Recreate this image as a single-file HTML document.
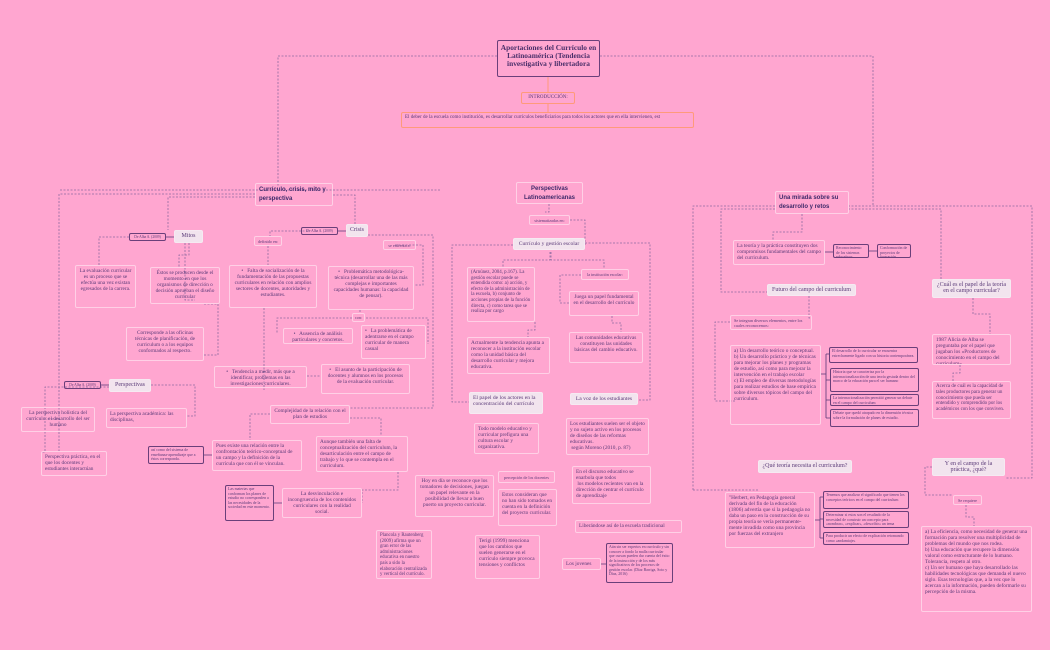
<!DOCTYPE html>
<html><head><meta charset="utf-8"><style>
body{margin:0;width:1050px;height:650px;background:#ffa6d0;position:relative;overflow:hidden;font-family:"Liberation Serif",serif;color:#5a3a78}
.n,.g,.d,.o{position:absolute;box-sizing:border-box;font-size:5.3px;line-height:6px;padding:2px 3px;border-radius:2px;overflow:hidden}
.n{border:1px solid #ffd0e6}
.g{background:#f2e4ee;border:1px solid #f6eaf2;font-size:6px;text-align:center}
.d{border:1px solid #6a3f7a;font-size:3.9px;line-height:4.5px;padding:1px 2px}
.o{border:1px solid #ff9a7a}
.c{text-align:center}
.l{white-space:nowrap;font-size:3.6px;padding:1px}
.b{font-family:"Liberation Sans",sans-serif;font-weight:bold;font-size:6px;line-height:9px;color:#3f2a6a}
svg{position:absolute;left:0;top:0}
</style></head><body>
<svg width="1050" height="650" fill="none" stroke="#8f6aa0" stroke-width="0.8" stroke-dasharray="2,1.5">
<path d="M497 56H278V186M600 56H873V205"/>
<path d="M255 194H59V452M255 197H168V230M333 195H355V224"/>
<path d="M189 243V255H179V267M129 237H99V265M185 243V300H195V300M204 304H218V355H204"/>
<path d="M308 231H270V236M368 235H433V408H350M395 245H423V285H414M268 246V265M264 308V390M360 310V313M366 318H428V344M352 318H277V333M307 376H321"/>
<path d="M109 387H45V452H41M60 419H45M151 385H195V416H187"/>
<path d="M270 414H250V440M350 418H381V436M398 472V490H362V503M440 190H59"/>
<path d="M549 204V212H545M570 220H585V245M513 245H452V402H469M550 252V260H503V267M551 252V260H604V269M581 275H560V303H569M612 316V323H621V332M535 322V330H528V337M585 243H650V400H638"/>
<path d="M775 206H693V490M693 490H758M775 209H721V292H767M848 206H1032V478H1005M802 214V232H773V240M848 209H941V279M809 296V318H812M730 322H715V401H735M973 298V314H990V334M960 365V373H953V381M932 467H925V495H953M966 505V517H974V526"/>
</svg>
<svg width="1050" height="650" fill="none" stroke="#ff9a7a" stroke-width="1"><path d="M548 77V92M548 104V112"/></svg>
<svg width="1050" height="650" fill="none" stroke="#5a3a78" stroke-width="0.8"><path d="M166 237H174M338 231H346M101 385H109M825 252H833M869 251H877M204 455H212M274 503H282M601 564H606M821 374H826M826 354V418M826 354H829M826 380H830M826 400H830M826 418H830M815 520H820M820 497V538M820 497H823M820 519H823M820 538H823"/></svg>

<div class="n c" style="left:497px;top:40px;width:103px;height:37px;border:1px solid #6a3f7a;font-size:7.4px;line-height:8px;font-weight:bold;color:#4a2f6a;padding:3px 2px">Aportaciones del Currículo en Latinoamérica (Tendencia investigativa y libertadora</div>
<div class="o c" style="left:521px;top:92px;width:54px;height:12px;font-size:5px">INTRODUCCIÓN:</div>
<div class="o" style="left:401px;top:112px;width:293px;height:16px;font-size:5px;line-height:6px">El deber de la escuela como institución, es desarrollar currículos beneficiarios para todos los actores que en ella intervienen, est</div>

<div class="n b" style="left:255px;top:183px;width:78px;height:23px">Currículo, crisis, mito y perspectiva</div>
<div class="g" style="left:174px;top:230px;width:29px;height:13px">Mitos</div>
<div class="d c l" style="left:129px;top:233px;width:37px;height:8px">De Alba A. (2009)</div>
<div class="g" style="left:346px;top:224px;width:22px;height:13px">Crisis</div>
<div class="d c l" style="left:301px;top:227px;width:37px;height:8px">De Alba A. (2009)</div>
<div class="n c l" style="left:254px;top:236px;width:28px;height:10px;font-size:4.2px;padding:2px 1px">definido en:</div>
<div class="n c l" style="left:383px;top:240px;width:33px;height:10px;font-size:4.2px;padding:2px 1px">se enfrenta a:</div>
<div class="n c" style="left:75px;top:265px;width:61px;height:43px">La evaluación curricular es un proceso que se efectúa una vez existan egresados de la carrera.</div>
<div class="n c" style="left:150px;top:267px;width:70px;height:37px">Éstos se producen desde el momento en que los organismos de dirección o decisión aprueban el diseño curricular</div>
<div class="n c" style="left:229px;top:265px;width:88px;height:43px">• &nbsp; Falta de socialización de la fundamentación de las propuestas curriculares en relación con amplios sectores de docentes, autoridades y estudiantes.</div>
<div class="n c" style="left:328px;top:266px;width:86px;height:44px">• &nbsp; Problemática metodológica-técnica (desarrollar una de las más complejas e importantes capacidades humanas: la capacidad de pensar).</div>
<div class="n c" style="left:352px;top:313px;width:13px;height:9px;font-size:4.2px;padding:1px">con:</div>
<div class="n c" style="left:283px;top:328px;width:70px;height:16px">• &nbsp; Ausencia de análisis particulares y concretos.</div>
<div class="n" style="left:361px;top:325px;width:65px;height:34px">• &nbsp; La problemática de adentrarse en el campo curricular de manera casual</div>
<div class="n c" style="left:126px;top:327px;width:78px;height:34px">Corresponde a las oficinas técnicas de planificación, de curriculum o a los equipos conformados al respecto.</div>
<div class="n c" style="left:214px;top:366px;width:93px;height:22px">• &nbsp; Tendencia a medir, más que a identificar, problemas en las investigaciones curriculares.</div>
<div class="n c" style="left:321px;top:364px;width:89px;height:30px">• &nbsp; El asunto de la participación de docentes y alumnos en los procesos de la evaluación curricular.</div>
<div class="g" style="left:109px;top:379px;width:42px;height:13px">Perspectivas</div>
<div class="d c l" style="left:64px;top:381px;width:37px;height:8px">De Alba A. (2009)</div>
<div class="n c" style="left:21px;top:407px;width:74px;height:25px">La perspectiva holística del currículo: el desarrollo del ser humano</div>
<div class="n" style="left:106px;top:408px;width:81px;height:20px">La perspectiva académica: las disciplinas,</div>
<div class="n" style="left:41px;top:451px;width:66px;height:25px">Perspectiva práctica, en el que los docentes y estudiantes interactúan</div>
<div class="n c" style="left:270px;top:405px;width:80px;height:19px">Complejidad de la relación con el plan de estudios</div>
<div class="d" style="left:148px;top:446px;width:56px;height:18px">así como del sistema de enseñanza-aprendizaje que a éstos corresponda.</div>
<div class="n" style="left:212px;top:440px;width:90px;height:31px">Pues existe una relación entre la confrontación teórico-conceptual de un campo y la definición de la currícula que con él se vinculan.</div>
<div class="n" style="left:316px;top:436px;width:92px;height:36px">Aunque también una falta de conceptualización del curriculum, la desarticulación entre el campo de trabajo y lo que se contempla en el curriculum.</div>
<div class="d" style="left:225px;top:485px;width:49px;height:36px">Las materias que conforman los planes de estudio no corresponden a las necesidades de la sociedad en este momento.</div>
<div class="n c" style="left:282px;top:488px;width:80px;height:30px">La desvinculación e incongruencia de los contenidos curriculares con la realidad social.</div>
<div class="n" style="left:376px;top:530px;width:56px;height:49px;font-size:4.8px;line-height:5.6px">Plancola y Rautenberg (2009) afirma que un gran error de las administraciones educativa en nuestro país a sido la elaboración centralizada y vertical del currículo.</div>

<div class="n b c" style="left:516px;top:182px;width:67px;height:22px">Perspectivas Latinoamericanas</div>
<div class="n c l" style="left:529px;top:215px;width:41px;height:10px;font-size:4.2px;padding:2px 1px">sistematizadas en:</div>
<div class="g" style="left:513px;top:238px;width:72px;height:12px;white-space:nowrap;font-size:5.6px">Currículo y gestión escolar</div>
<div class="n" style="left:467px;top:267px;width:68px;height:55px;font-size:4.9px;line-height:5.6px">(Arnúnez, 2004, p.167). La gestión escolar puede se entendida como: a) acción, y efecto de la administración de la escuela, b) conjunto de acciones propias de la función directa, c) como tarea que se realiza por cargo</div>
<div class="n c l" style="left:581px;top:269px;width:48px;height:11px;font-size:4.2px;padding:2px 1px">la institución escolar:</div>
<div class="n c" style="left:569px;top:291px;width:70px;height:25px">Juega un papel fundamental en el desarrollo del currículo</div>
<div class="n" style="left:467px;top:337px;width:83px;height:37px">Actualmente la tendencia apunta a reconocer a la institución escolar como la unidad básica del desarrollo curricular y mejora educativa.</div>
<div class="n c" style="left:569px;top:332px;width:74px;height:31px">Las comunidades educativas constituyen las unidades básicas del cambio educativo.</div>
<div class="g" style="left:469px;top:392px;width:74px;height:22px;text-align:left;font-size:5.6px">El papel de los actores en la concentración del currículo</div>
<div class="g" style="left:570px;top:393px;width:68px;height:12px;font-size:5.6px">La voz de los estudiantes</div>
<div class="n" style="left:474px;top:423px;width:65px;height:31px">Todo modelo educativo y curricular prefigura una cultura escolar y organizativa.</div>
<div class="n" style="left:566px;top:418px;width:83px;height:37px">Los estudiantes suelen ser el objeto y no sujeto activo en los procesos de diseños de las reformas educativas.<br>&nbsp;según Moreno (2010, p. 87)</div>
<div class="n c" style="left:415px;top:475px;width:79px;height:42px">Hoy en día se reconoce que los tomadores de decisiones, juegan un papel relevante en la posibilidad de llevar a buen puerto un proyecto curricular.</div>
<div class="n c l" style="left:498px;top:471px;width:57px;height:12px;font-size:4.2px;padding:3px 1px">percepción de los docentes</div>
<div class="n" style="left:498px;top:489px;width:59px;height:37px">Estos consideran que no han sido tomados en cuenta en la definición del proyecto curricular.</div>
<div class="n" style="left:572px;top:466px;width:79px;height:38px">En el discurso educativo se enarbola que todos<br>&nbsp;los modelos recientes van en la dirección de centrar el currículo de aprendizaje</div>
<div class="n" style="left:575px;top:520px;width:107px;height:13px">Liberándose así de la escuela tradicional</div>
<div class="n" style="left:475px;top:535px;width:65px;height:44px">Terigi (1999) menciona que los cambios que suelen generarse en el currículo siempre provoca tensiones y conflictos</div>
<div class="n" style="left:562px;top:558px;width:39px;height:12px">Los jovenes</div>
<div class="d" style="left:606px;top:543px;width:67px;height:40px">Aún sin ser expertos en currículo y sin conocer a fondo la malla curricular que cursan pueden dar cuenta del éxito de la instrucción y de los más significativos de los procesos de gestión escolar. (Díaz Barriga, Soto y Díaz, 2016)</div>

<div class="n b" style="left:775px;top:191px;width:74px;height:23px">Una mirada sobre su desarrollo y retos</div>
<div class="n" style="left:733px;top:240px;width:92px;height:25px">La teoría y la práctica constituyen dos compromisos fundamentales del campo del curriculum.</div>
<div class="d" style="left:833px;top:244px;width:36px;height:14px">Reconocimiento de los sistemas educativos</div>
<div class="d" style="left:877px;top:244px;width:34px;height:14px">Conformación de proyectos de formación.</div>
<div class="g" style="left:767px;top:284px;width:89px;height:12px">Futuro del campo del curriculum</div>
<div class="g" style="left:932px;top:279px;width:79px;height:19px">¿Cuál es el papel de la teoría en el campo curricular?</div>
<div class="n" style="left:730px;top:315px;width:82px;height:15px;font-size:4.2px;line-height:5px">Se integran diversos elementos, entre los cuales reconocemos:</div>
<div class="n" style="left:730px;top:345px;width:91px;height:80px">a) Un desarrollo teórico o conceptual.<br>b) Un desarrollo práctico y de técnicas para mejorar los planes y programas de estudio, así como para mejorar la intervención en el trabajo escolar<br>c) El empleo de diversas metodologías para realizar estudios de base empírica sobre diversos tópicos del campo del curriculum.</div>
<div class="d" style="left:829px;top:347px;width:89px;height:16px">El desarrollo de lo curricular se encuentra estrechamente ligado con su historia contemporánea.</div>
<div class="d" style="left:830px;top:368px;width:89px;height:24px">Historia que se caracteriza por la internacionalización de una teoría gestada dentro del marco de la educación para el ser humano</div>
<div class="d" style="left:830px;top:394px;width:89px;height:12px">La internacionalización permitió generar un debate en el campo del curriculum</div>
<div class="d" style="left:830px;top:409px;width:89px;height:18px">Debate que quedó atrapado en la dimensión técnica sobre la formulación de planes de estudio.</div>
<div class="n" style="left:932px;top:334px;width:79px;height:31px">1987 Alicia de Alba se preguntaba por el papel que jugaban los «Productores de conocimiento en el campo del curriculum»</div>
<div class="n" style="left:932px;top:381px;width:79px;height:38px;font-size:5px;line-height:5.8px">Acerca de cuál es la capacidad de tales productores para generar un conocimiento que pueda ser entendido y comprendido por los académicos con los que conviven.</div>
<div class="g" style="left:758px;top:460px;width:94px;height:13px">¿Qué teoría necesita el curriculum?</div>
<div class="g" style="left:932px;top:458px;width:73px;height:18px">Y en el campo de la práctica, ¿qué?</div>
<div class="n c l" style="left:953px;top:495px;width:29px;height:10px;font-size:4.2px;padding:2px 1px">Se requiere</div>
<div class="n" style="left:725px;top:492px;width:90px;height:56px">"Herbert, en Pedagogía general derivada del fin de la educación (1806) advertía que si la pedagogía no daba un paso en la construcción de su propia teoría se vería permanente- mente invadida como una provincia por fuerzas del extranjero</div>
<div class="d" style="left:823px;top:491px;width:86px;height:18px">Tenemos que analizar el significado que tienen los conceptos teóricos en el campo del curriculum</div>
<div class="d" style="left:823px;top:511px;width:86px;height:17px">Determinar si estos son el resultado de la necesidad de construir un concepto para «nombrar», «explicar», «describir» un tema</div>
<div class="d" style="left:823px;top:532px;width:86px;height:13px">Para producir un efecto de explicación retomando como «andamiaje»</div>
<div class="n" style="left:921px;top:526px;width:111px;height:86px">a) La eficiencia, como necesidad de generar una formación para resolver una multiplicidad de problemas del mundo que nos rodea.<br>b) Una educación que recupere la dimensión valoral como estructurante de lo humano. Tolerancia, respeto al otro.<br>c) Un ser humano que haya desarrollado las habilidades tecnológicas que demanda el nuevo siglo. Esas tecnologías que, a la vez que lo acercan a la información, pueden deformarle su percepción de la misma.</div>
</body></html>
